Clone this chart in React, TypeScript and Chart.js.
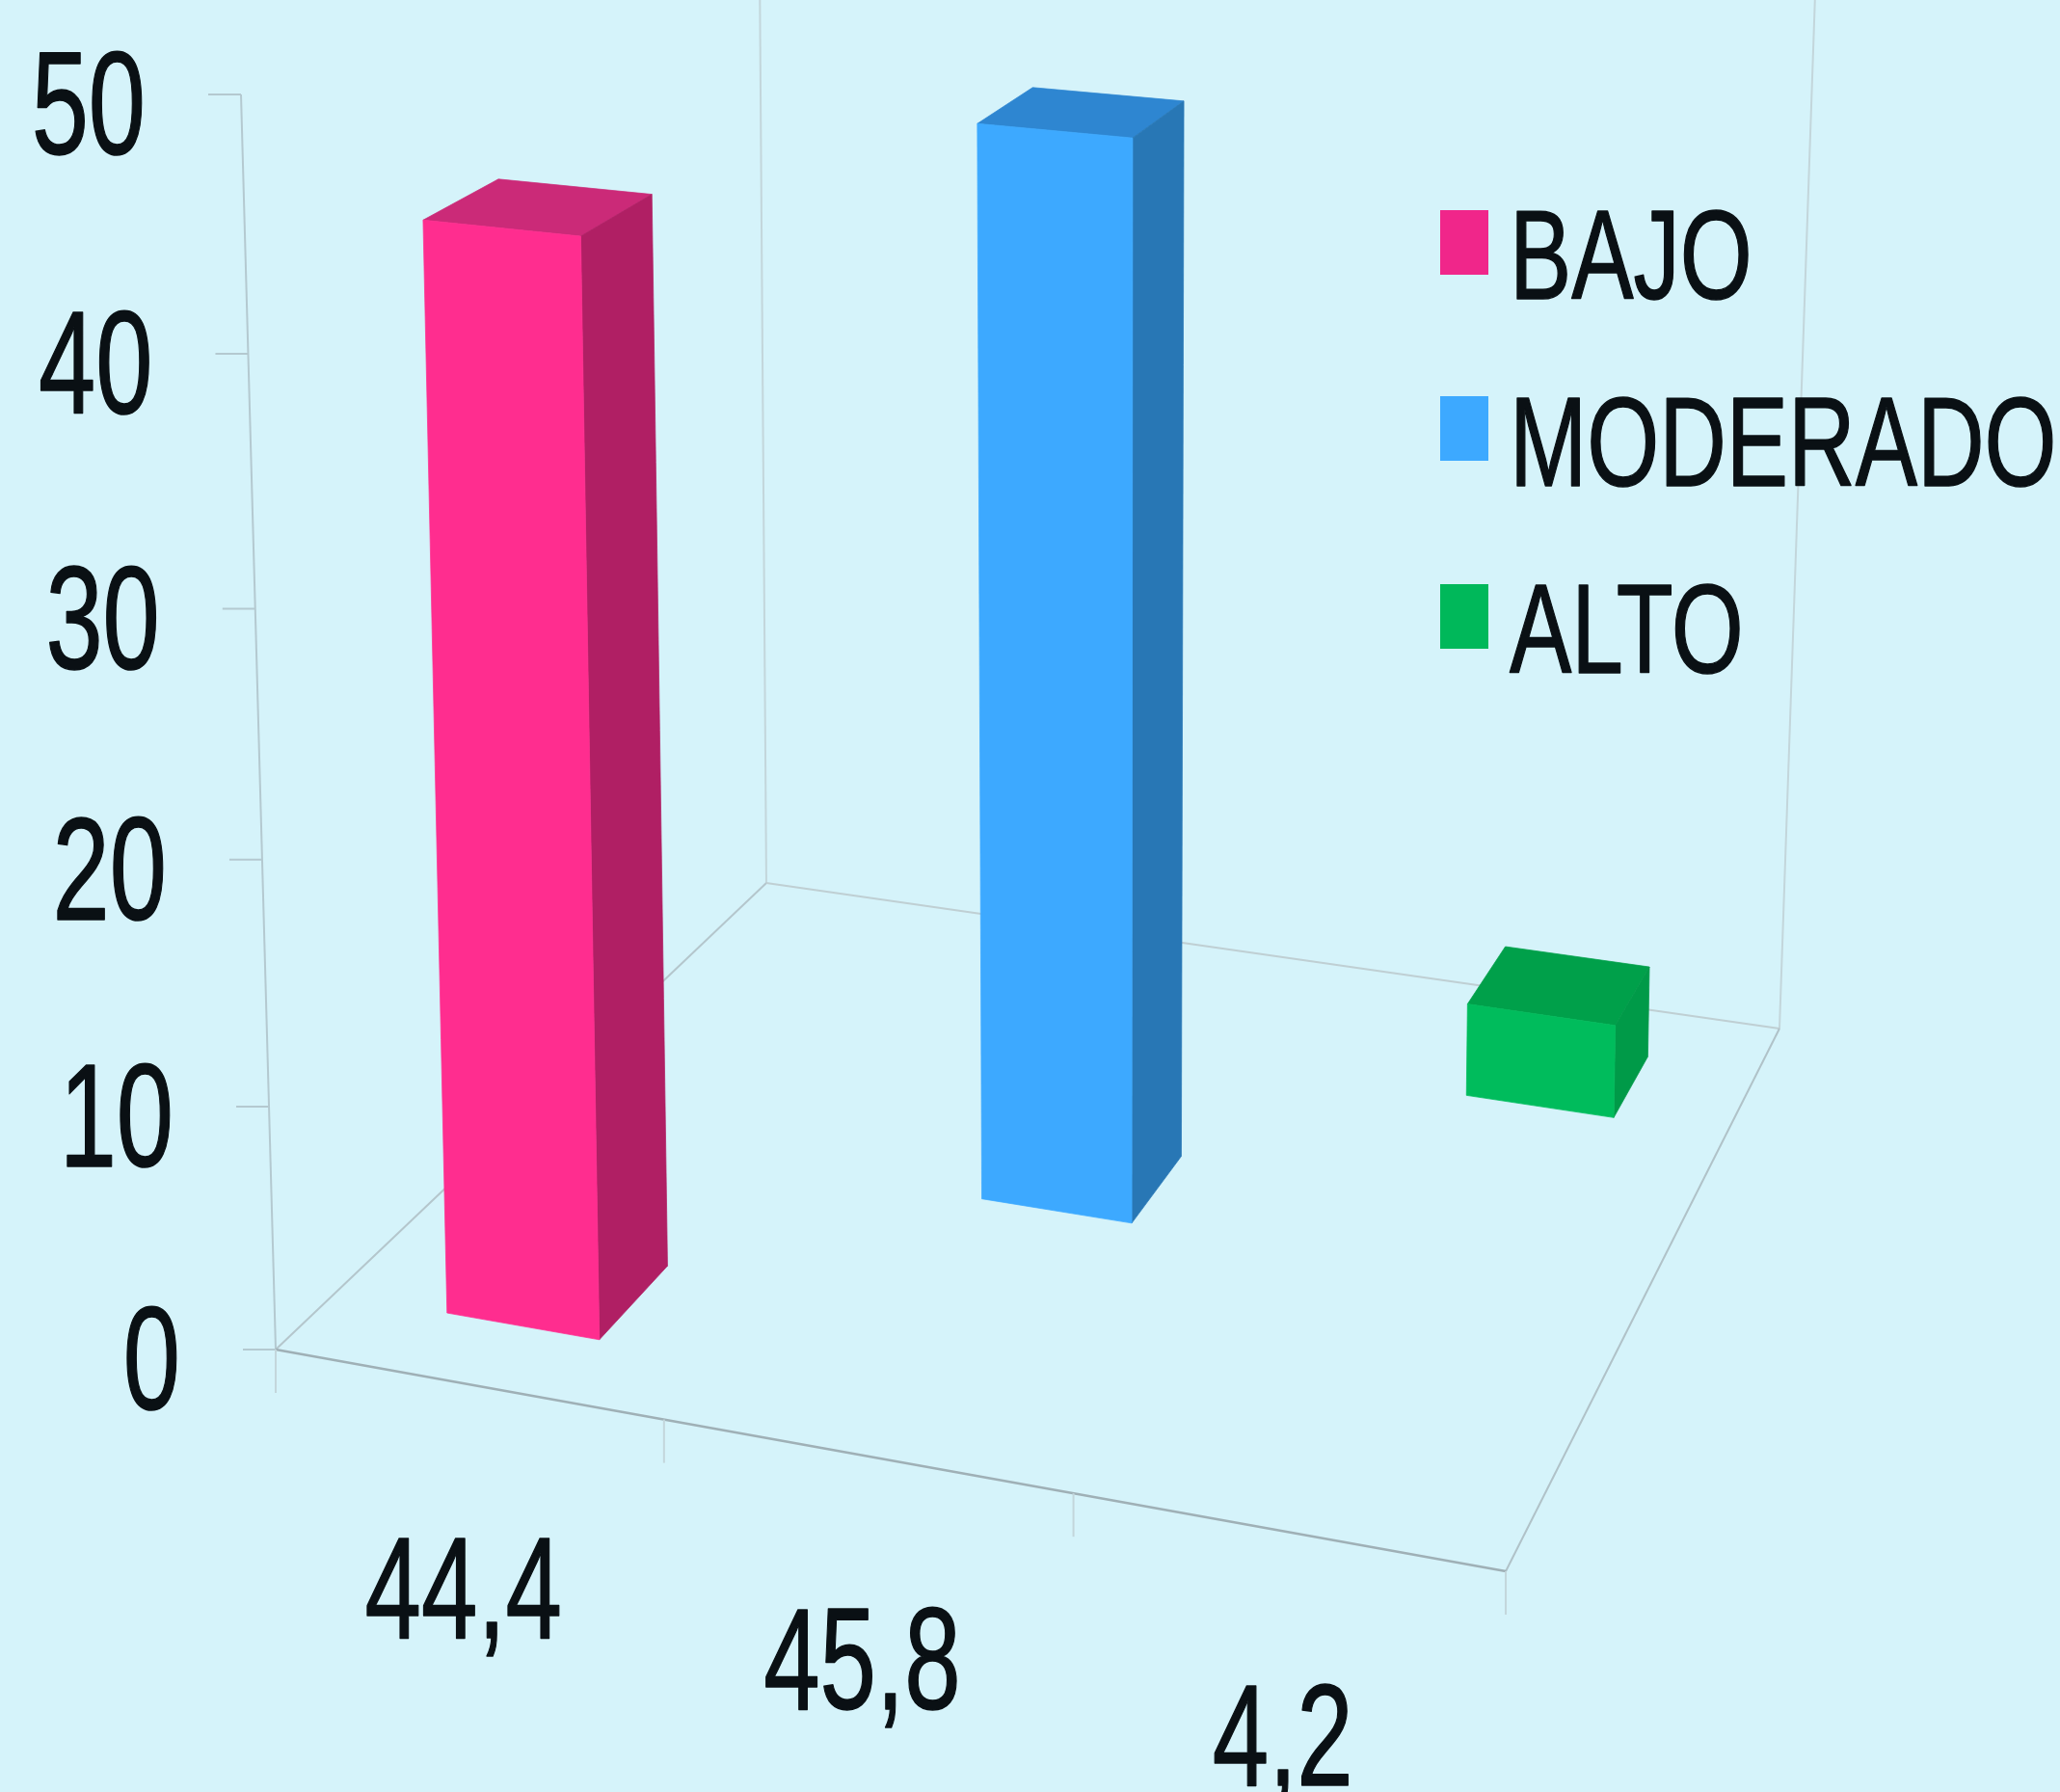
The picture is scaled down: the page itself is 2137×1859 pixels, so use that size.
import React, { useEffect, useRef } from "react";
import { Chart, registerables } from "chart.js";

Chart.register(...registerables);

// ---- data ----
const categories = ["44,4", "45,8", "4,2"];
const seriesNames = ["BAJO", "MODERADO", "ALTO"];
const bajoValues = [44.4, null, null];
const moderadoValues = [null, 45.8, null];
const altoValues = [null, null, 4.2];
const valueMin = 0;
const valueMax = 50;
const valueStep = 10;

// ---- styles ----
const BG = "#D5F3FA";
const TEXT = "#0A1014";
const frontColors = ["#FF2D8F", "#3DA9FF", "#00BC5C"];
const sideColors = ["#B01F64", "#2877B5", "#009A48"];
const topColors = ["#CB2A78", "#2E86D1", "#00A04A"];
const legendColors = ["#F0268A", "#3DA9FF", "#00B85A"];
const FONT_FAMILY = '"Liberation Sans", Arial, sans-serif';

// ---- camera: (u along the category axis, h value height, d depth), all 0..1 ----
const VIEW = {
  x: [1155.3, -46, 695.8, 286],
  y: [104, -1306, -268.7, 1400],
  w: [-0.0773, -0.04, 0.235, 1],
};

function project(u: number, h: number, d: number): [number, number] {
  const f = (r: number[]) => r[0] * u + r[1] * h + r[2] * d + r[3];
  const w = f(VIEW.w);
  return [f(VIEW.x) / w, f(VIEW.y) / w];
}

function poly(ctx: CanvasRenderingContext2D, pts: [number, number][], fill: string) {
  ctx.beginPath();
  pts.forEach((p, i) => (i ? ctx.lineTo(p[0], p[1]) : ctx.moveTo(p[0], p[1])));
  ctx.closePath();
  ctx.fillStyle = fill;
  ctx.fill();
  ctx.strokeStyle = fill;
  ctx.lineWidth = 0.75;
  ctx.stroke();
}

function line(ctx: CanvasRenderingContext2D, a: [number, number], b: [number, number], color: string, width = 2) {
  ctx.beginPath();
  ctx.moveTo(a[0], a[1]);
  ctx.lineTo(b[0], b[1]);
  ctx.strokeStyle = color;
  ctx.lineWidth = width;
  ctx.stroke();
}

function label(
  ctx: CanvasRenderingContext2D,
  text: string,
  x: number,
  y: number,
  align: CanvasTextAlign,
  size: number,
  squeeze: number
) {
  ctx.save();
  ctx.translate(x, y);
  ctx.scale(squeeze, 1);
  ctx.font = `${size}px ${FONT_FAMILY}`;
  ctx.fillStyle = TEXT;
  ctx.strokeStyle = TEXT;
  ctx.lineWidth = 1.5;
  ctx.lineJoin = "round";
  ctx.textAlign = align;
  ctx.textBaseline = "alphabetic";
  ctx.fillText(text, 0, 0);
  ctx.strokeText(text, 0, 0);
  ctx.restore();
}

const perspectivePlugin = {
  id: "perspective",
  beforeDatasetsDraw(chart: any) {
    const ctx: CanvasRenderingContext2D = chart.ctx;
    const { x: xs, y: ys } = chart.scales;
    const area = chart.chartArea;
    const toH = (v: number) => (area.bottom - ys.getPixelForValue(v)) / (area.bottom - area.top);
    const top = 1.2;
    const leanBack = (p: [number, number], dx: number): [number, number] => [p[0] + dx, p[1]];

    ctx.save();
    // walls and floor
    line(ctx, project(0, 0, 0), project(0, toH(valueMax), 0), "#B4C9D0");
    line(ctx, project(0, 0, 1), leanBack(project(0, top, 1), 5), "#C3D6DB");
    line(ctx, project(1, 0, 1), leanBack(project(1, top, 1), 17), "#C3D6DB");
    line(ctx, project(0, 0, 0), project(0, 0, 1), "#B4C6CC");
    line(ctx, project(0, 0, 1), project(1, 0, 1), "#BFCFD3");
    line(ctx, project(1, 0, 0), project(1, 0, 1), "#B0C2C8");
    line(ctx, project(0, 0, 0), project(1, 0, 0), "#9FB0B6", 2.5);

    // value axis ticks and labels
    ys.ticks.forEach((t: any) => {
      const p = project(0, toH(t.value), 0);
      line(ctx, [p[0] - 34, p[1]], p, "#B4C9D0");
      label(ctx, String(t.value), p[0] - 99, p[1] + 62, "right", 152, 0.7);
    });

    // category axis ticks and labels
    const n = categories.length;
    for (let i = 0; i <= n; i++) {
      const p = project(i / n, 0, 0);
      line(ctx, p, [p[0], p[1] + 45], "#C3D6DB");
    }
    categories.forEach((text, i) => {
      const px = xs.getPixelForTick(i);
      const p = project((px - area.left) / (area.right - area.left), 0, 0);
      label(ctx, text, p[0] - 4, p[1] + 263, "center", 150, 0.7);
    });
    ctx.restore();
  },
  beforeDatasetDraw(chart: any, args: any) {
    const ctx: CanvasRenderingContext2D = chart.ctx;
    const area = chart.chartArea;
    const W = area.right - area.left;
    const H = area.bottom - area.top;
    const i = args.index;
    const ds = chart.data.datasets[i];
    args.meta.data.forEach((bar: any, j: number) => {
      if (ds.data[j] == null) return;
      const u0 = (bar.x - bar.width / 2 - area.left) / W;
      const u1 = (bar.x + bar.width / 2 - area.left) / W;
      const d0 = u0;
      const d1 = u1;
      const h1 = (area.bottom - bar.y) / H;
      const h0 = (area.bottom - bar.base) / H;
      ctx.save();
      poly(ctx, [project(u0, h1, d0), project(u0, h1, d1), project(u1, h1, d1), project(u1, h1, d0)], topColors[i]);
      poly(ctx, [project(u1, h1, d0), project(u1, h1, d1), project(u1, h0, d1), project(u1, h0, d0)], sideColors[i]);
      poly(ctx, [project(u0, h1, d0), project(u1, h1, d0), project(u1, h0, d0), project(u0, h0, d0)], frontColors[i]);
      ctx.restore();
    });
    return false;
  },
  afterDatasetsDraw(chart: any) {
    const ctx: CanvasRenderingContext2D = chart.ctx;
    const rows = [
      { box: 218, base: 310 },
      { box: 411, base: 504 },
      { box: 606, base: 698 },
    ];
    chart.data.datasets.forEach((ds: any, i: number) => {
      ctx.fillStyle = legendColors[i];
      ctx.fillRect(1494, rows[i].box, 50, 67);
      label(ctx, ds.label, 1566, rows[i].base, "left", 132, 0.73);
    });
  },
};

export default function App() {
  const ref = useRef<HTMLCanvasElement>(null);

  useEffect(() => {
    document.body.style.margin = "0";
    document.body.style.background = BG;
    const chart = new Chart(ref.current as HTMLCanvasElement, {
      type: "bar",
      data: {
        labels: categories,
        datasets: [bajoValues, moderadoValues, altoValues].map((data, i) => ({
          label: seriesNames[i],
          data,
          backgroundColor: frontColors[i],
          barPercentage: 0.4,
          categoryPercentage: 1,
          grouped: false,
        })) as any,
      },
      options: {
        animation: false,
        responsive: false,
        devicePixelRatio: 1,
        layout: { padding: 0 },
        plugins: { legend: { display: false }, tooltip: { enabled: false } },
        scales: {
          x: { display: false },
          y: { display: false, min: valueMin, max: valueMax, ticks: { stepSize: valueStep } },
        },
      },
      plugins: [perspectivePlugin as any],
    });
    return () => chart.destroy();
  }, []);

  return (
    <div style={{ width: 2137, height: 1859, background: BG, overflow: "hidden" }}>
      <canvas ref={ref} width={2137} height={1859} style={{ display: "block" }} />
    </div>
  );
}
